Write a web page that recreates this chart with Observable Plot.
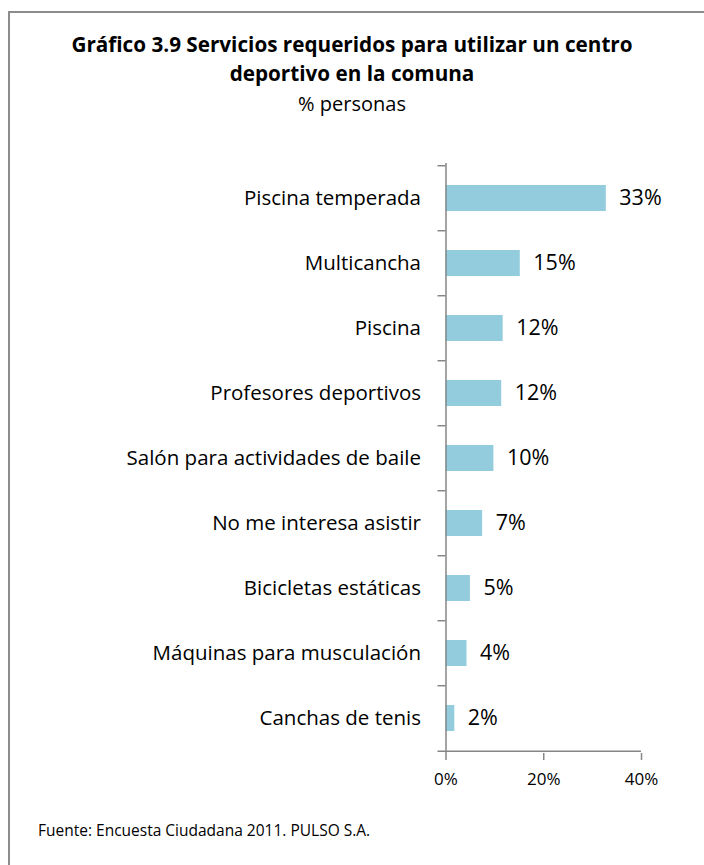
<!DOCTYPE html>
<html><head><meta charset="utf-8">
<script src="https://cdn.jsdelivr.net/npm/d3@7"></script>
<script src="https://cdn.jsdelivr.net/npm/@observablehq/plot@0.6"></script>
<style>
body{margin:0;width:704px;height:865px;overflow:hidden;background:#fff;font-family:"Open Sans","Noto Sans",sans-serif;position:relative;color:#000}
#frame{position:absolute;left:8px;top:11px;width:760px;height:900px;border:2px solid #8c8c8c;box-sizing:border-box}
#title{position:absolute;left:0;width:704px;top:30px;text-align:center;font-weight:bold;font-size:20.7px;line-height:29px}
#subtitle{position:absolute;left:0;width:704px;top:90px;text-align:center;font-size:20px;line-height:28px}
#chart{position:absolute;left:0;top:140px}
#caption{position:absolute;left:38px;top:819px;font-size:15.5px;line-height:22px}
</style>
</head><body>
<div id="frame"></div>
<div id="title">Gráfico 3.9 Servicios requeridos para utilizar un centro<br>deportivo en la comuna</div>
<div id="subtitle">% personas</div>
<div id="chart"></div>
<div id="caption">Fuente: Encuesta Ciudadana 2011. PULSO S.A.</div>
<script>
const categories = ["Piscina temperada", "Multicancha", "Piscina", "Profesores deportivos", "Salón para actividades de baile", "No me interesa asistir", "Bicicletas estáticas", "Máquinas para musculación", "Canchas de tenis"];
const values = [32.8, 15.2, 11.7, 11.4, 9.8, 7.5, 5.0, 4.3, 1.8];
const valueLabels = ["33%", "15%", "12%", "12%", "10%", "7%", "5%", "4%", "2%"];
const xTicks = [0, 20, 40];

const data = categories.map((c, i) => ({name: c, value: values[i], label: valueLabels[i]}));

const W = 704, H = 660, mT = 23, mB = 47, mL = 445.5, mR = 63;
const step = (H - mT - mB) / categories.length;
const last = categories[categories.length - 1];

const plot = Plot.plot({
  width: W, height: H,
  marginTop: mT, marginBottom: mB, marginLeft: mL, marginRight: mR,
  style: {fontFamily: "'Open Sans', 'Noto Sans', sans-serif", color: "#000", background: "transparent"},
  x: {domain: [0, 40], axis: null, label: null},
  y: {domain: categories, paddingInner: 0.6, paddingOuter: 0.3, axis: null, label: null},
  marks: [
    Plot.barX(data, {x: "value", y: "name", fill: "#93cddd"}),
    Plot.ruleX([0], {stroke: "#868686", strokeWidth: 1.5}),
    Plot.ruleY(categories, {y: d => d, x1: 0, x2: 0, insetLeft: -8, dy: -step / 2, stroke: "#868686", strokeWidth: 1.5}),
    Plot.ruleY([last], {y: d => d, x1: 0, x2: 40, insetLeft: -8, dy: step / 2, stroke: "#868686", strokeWidth: 1.5}),
    Plot.axisX({ticks: xTicks, tickFormat: d => d + "%", tickSize: 7, tickPadding: 12, fontSize: 17, stroke: "#868686", strokeWidth: 1.5, fill: "#000", label: null}),
    Plot.axisY({tickSize: 0, tickPadding: 25, fontSize: 20.5, fill: "#000", label: null}),
    Plot.text(data, {x: "value", y: "name", text: "label", textAnchor: "start", dx: 13, fontSize: 21.5, fill: "#000"})
  ]
});
document.getElementById("chart").appendChild(plot);
</script>
</body></html>
